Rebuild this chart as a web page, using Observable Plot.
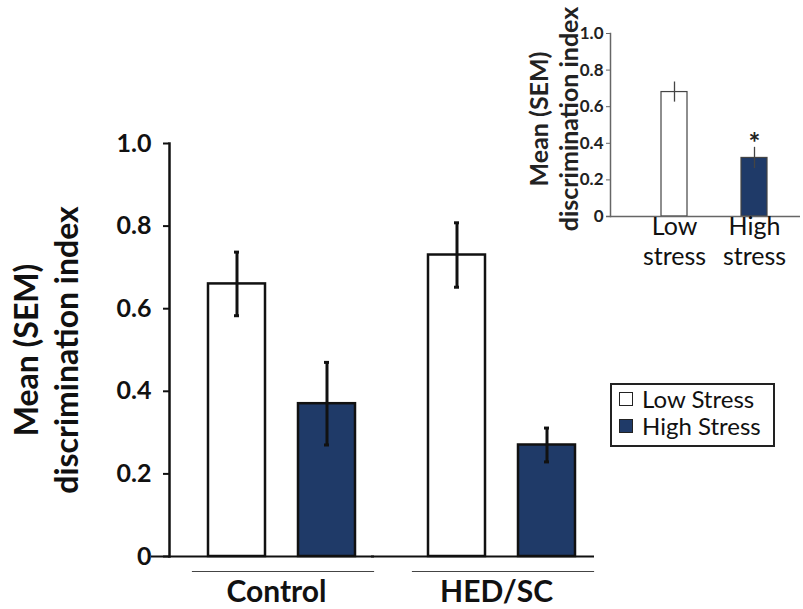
<!DOCTYPE html>
<html>
<head>
<meta charset="utf-8">
<script src="https://cdn.jsdelivr.net/npm/d3@7"></script>
<script src="https://cdn.jsdelivr.net/npm/@observablehq/plot@0.6"></script>
<style>
  html, body { margin: 0; padding: 0; background: #ffffff; overflow: hidden; }
  #wrap { position: relative; width: 803px; height: 609px; font-family: Lato, "DejaVu Sans", sans-serif; }
  #main, #inset, #legend { position: absolute; }
  #main { left: 0; top: 0; }
  #inset { left: 500px; top: 0; }
  #legend { left: 610px; top: 383px; width: 165px; height: 64px; box-sizing: border-box;
            border: 2px solid #222; background: #fff; padding: 0 0 0 7px; }
  .row { display: flex; align-items: center; height: 27px; font-size: 24px; color: #111; white-space: nowrap; }
  .sw { width: 14px; height: 14px; box-sizing: border-box; border: 1.5px solid #222; margin-right: 9px; flex: none; }
</style>
</head>
<body>
<div id="wrap">
  <div id="main"></div>
  <div id="inset"></div>
  <div id="legend"></div>
</div>
<script>
// ---- data ----
const groups = ["Control", "HED/SC"];
const stressLevels = ["Low Stress", "High Stress"];
const stressColors = ["#ffffff", "#1f3a68"];
const mainGroup = ["Control", "Control", "HED/SC", "HED/SC"];
const mainStress = ["Low Stress", "High Stress", "Low Stress", "High Stress"];
const mainMean = [0.66, 0.37, 0.73, 0.27];
const mainSem = [0.077, 0.10, 0.078, 0.041];
const yTicks = [0, 0.2, 0.4, 0.6, 0.8, 1.0];
const yTitle = "Mean (SEM)\ndiscrimination index";

const insetLabels = ["Low\nstress", "High\nstress"];
const insetStress = ["Low Stress", "High Stress"];
const insetMean = [0.68, 0.32];
const insetSem = [0.055, 0.058];
const insetMark = ["", "*"];

const fmt = d => d === 0 ? "0" : d.toFixed(1);

const mainData = mainMean.map((m, i) => ({
  group: mainGroup[i], stress: mainStress[i], mean: m, lo: m - mainSem[i], hi: m + mainSem[i]
}));
const insetData = insetMean.map((m, i) => ({
  label: insetLabels[i], stress: insetStress[i], mean: m, lo: m - insetSem[i], hi: m + insetSem[i], mark: insetMark[i]
}));

const main = Plot.plot({
  width: 803, height: 609,
  marginLeft: 168, marginRight: 199, marginTop: 143, marginBottom: 53,
  style: { fontFamily: "Lato, sans-serif", color: "#111", background: "transparent" },
  fx: { domain: groups, paddingInner: 0.027, paddingOuter: 0, label: null },
  x: { domain: stressLevels, paddingInner: 0.363, paddingOuter: 0.363, align: 0.583, axis: null },
  y: { domain: [0, 1], axis: null },
  color: { domain: stressLevels, range: stressColors },
  marks: [
    Plot.frame({ anchor: "left", facetAnchor: "left", stroke: "#111", strokeWidth: 2.5 }),
    Plot.axisY({ ticks: yTicks, tickFormat: fmt, tickSize: 6, tickPadding: 12, fontSize: 25,
                 fontWeight: "bold", strokeWidth: 2, label: null }),
    Plot.text([yTitle], { frameAnchor: "left", facetAnchor: "left", rotate: -90, dx: -124,
                          textAnchor: "middle", fontSize: 32, fontWeight: "bold", lineHeight: 1.25, fill: "#111" }),
    Plot.barY(mainData, { fx: "group", x: "stress", y: "mean", fill: "stress", stroke: "#111", strokeWidth: 2.5 }),
    Plot.ruleX(mainData, { fx: "group", x: "stress", y1: "lo", y2: "hi", stroke: "#111", strokeWidth: 3 }),
    Plot.tickY(mainData, { fx: "group", x: "stress", y: "hi", insetLeft: 26, insetRight: 26, stroke: "#111", strokeWidth: 3 }),
    Plot.tickY(mainData, { fx: "group", x: "stress", y: "lo", insetLeft: 26, insetRight: 26, stroke: "#111", strokeWidth: 3 }),
    Plot.ruleY([0], { insetLeft: -18, insetRight: 9, stroke: "#111", strokeWidth: 2 }),
    Plot.frame({ anchor: "bottom", dy: 15, insetLeft: 23, insetRight: 10, stroke: "#444", strokeWidth: 1.2 }),
    Plot.axisFx({ anchor: "bottom", tickSize: 0, tickPadding: 24, fontSize: 30, fontWeight: "bold", label: null })
  ]
});
document.getElementById("main").appendChild(main);

const inset = Plot.plot({
  width: 303, height: 280,
  marginLeft: 110, marginRight: 3, marginTop: 33, marginBottom: 64,
  style: { fontFamily: "Lato, sans-serif", color: "#222", background: "transparent" },
  x: { domain: insetLabels, paddingInner: 0.68, paddingOuter: 0.513, align: 0.6 },
  y: { domain: [0, 1], axis: null },
  color: { domain: stressLevels, range: stressColors },
  marks: [
    Plot.frame({ anchor: "left", stroke: "#666", strokeWidth: 1.5 }),
    Plot.axisY({ ticks: yTicks, tickFormat: fmt, tickSize: 4, tickPadding: 3, fontSize: 17,
                 fontWeight: "bold", stroke: "#666", label: null }),
    Plot.text([yTitle], { frameAnchor: "left", rotate: -90, dx: -57, dy: -6, textAnchor: "middle",
                          fontSize: 25, fontWeight: "bold", lineHeight: 1.2, fill: "#222" }),
    Plot.barY(insetData, { x: "label", y: "mean", fill: "stress", stroke: "#444", strokeWidth: 1.2 }),
    Plot.ruleX(insetData, { x: "label", y1: "lo", y2: "hi", stroke: "#444", strokeWidth: 1.3 }),
    Plot.ruleY([0], { insetLeft: -4, stroke: "#666", strokeWidth: 1.5 }),
    Plot.text(insetData, { x: "label", y: "hi", text: "mark", lineAnchor: "bottom", dy: 6,
                           fontSize: 28, fontWeight: "bold", fill: "#222" }),
    Plot.axisX({ tickSize: 0, tickPadding: -3, fontSize: 25, lineHeight: 1.2, label: null, fill: "#111" })
  ]
});
document.getElementById("inset").appendChild(inset);

// legend
const legend = document.getElementById("legend");
stressLevels.forEach((s, i) => {
  const row = document.createElement("div");
  row.className = "row";
  const sw = document.createElement("span");
  sw.className = "sw";
  sw.style.background = stressColors[i];
  const t = document.createElement("span");
  t.textContent = s;
  row.appendChild(sw); row.appendChild(t);
  legend.appendChild(row);
});
</script>
</body>
</html>
